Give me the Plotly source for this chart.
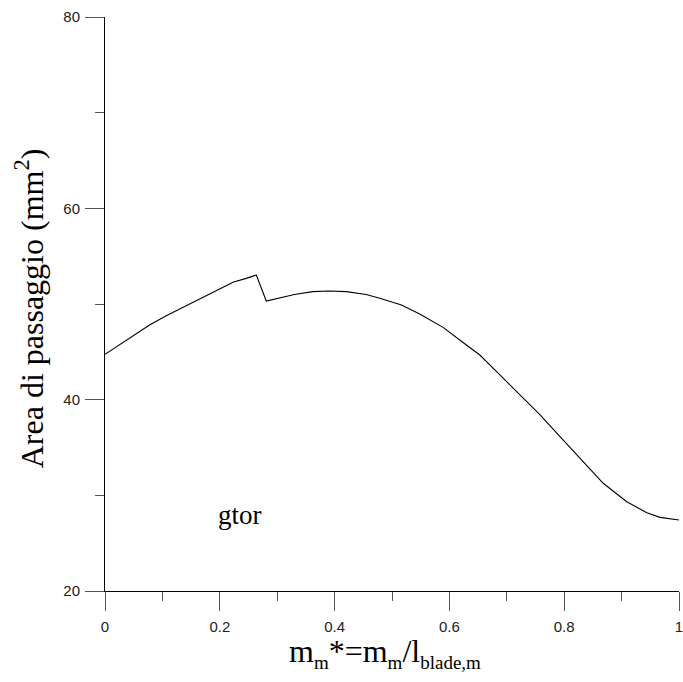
import plotly.graph_objects as go

# Normalised meridional coordinate and passage area (mm^2)
m_star = [0.0, 0.037, 0.0776, 0.1067, 0.1416, 0.1765, 0.2113, 0.223, 0.246, 0.2636,
          0.281, 0.304, 0.33, 0.362, 0.39, 0.4205, 0.455, 0.4786, 0.5165, 0.5483,
          0.589, 0.618, 0.653, 0.688, 0.723, 0.758, 0.7955, 0.827, 0.868, 0.909,
          0.944, 0.967, 1.0]
area = [44.74, 46.24, 47.8, 48.78, 49.82, 50.87, 51.91, 52.27, 52.68, 53.03,
        50.31, 50.6, 51.0, 51.29, 51.36, 51.29, 51.0, 50.6, 49.9, 48.95,
        47.56, 46.24, 44.67, 42.58, 40.49, 38.4, 35.96, 33.87, 31.26, 29.33,
        28.18, 27.7, 27.42]

x_ticks = [0, 0.2, 0.4, 0.6, 0.8, 1]
x_tick_text = ["0", "0.2", "0.4", "0.6", "0.8", "1"]
y_ticks = [20, 40, 60, 80]
y_tick_text = ["20", "40", "60", "80"]

fig = go.Figure()
fig.add_trace(go.Scatter(x=m_star, y=area, mode="lines",
                         line=dict(color="black", width=1.1),
                         showlegend=False, hoverinfo="skip"))

tick_font = dict(family="Liberation Sans, Arial, sans-serif", size=15, color="#222")
fig.update_xaxes(range=[0, 1], tickvals=x_ticks, ticktext=x_tick_text,
                 showline=True, linecolor="black", linewidth=1,
                 ticks="outside", ticklen=19, tickcolor="#555", tickwidth=1,
                 ticklabeloverflow="allow", ticklabelstandoff=3, automargin=False,
                 minor=dict(ticks="outside", ticklen=9, tickcolor="#555",
                            dtick=0.1, tick0=0, showgrid=False),
                 showgrid=False, zeroline=False, tickfont=tick_font)
fig.update_yaxes(range=[20, 80], tickvals=y_ticks, ticktext=y_tick_text,
                 showline=True, linecolor="black", linewidth=1,
                 ticks="outside", ticklen=19, tickcolor="#555", tickwidth=1,
                 ticklabeloverflow="allow", ticklabelstandoff=2, automargin=False,
                 minor=dict(ticks="outside", ticklen=9, tickcolor="#555",
                            dtick=10, tick0=20, showgrid=False),
                 showgrid=False, zeroline=False, tickfont=tick_font)

serif = "Liberation Serif, Times New Roman, serif"
sub_style = "font-size:19px"
fig.add_annotation(text="Area di passaggio (mm<sup>2</sup>)",
                   xref="paper", yref="paper", x=-0.132, y=0.493,
                   xanchor="center", yanchor="middle", textangle=-90,
                   showarrow=False, font=dict(family=serif, size=32, color="black"))
fig.add_annotation(text=(f"m<sub><span style='{sub_style}'>m</span></sub>*="
                         f"m<sub><span style='{sub_style}'>m</span></sub>/"
                         f"l<sub><span style='{sub_style}'>blade,m</span></sub>"),
                   xref="paper", yref="paper", x=0.487, y=-0.108,
                   xanchor="center", yanchor="middle",
                   showarrow=False, font=dict(family=serif, size=32, color="black"))
fig.add_annotation(text="gtor", xref="x", yref="y", x=0.2345, y=27.9,
                   xanchor="center", yanchor="middle", showarrow=False,
                   font=dict(family=serif, size=27, color="black"))

fig.update_layout(width=683, height=682,
                  margin=dict(l=105, r=4, t=17, b=91, autoexpand=False),
                  paper_bgcolor="white", plot_bgcolor="white")

fig.write_html("out.html")
